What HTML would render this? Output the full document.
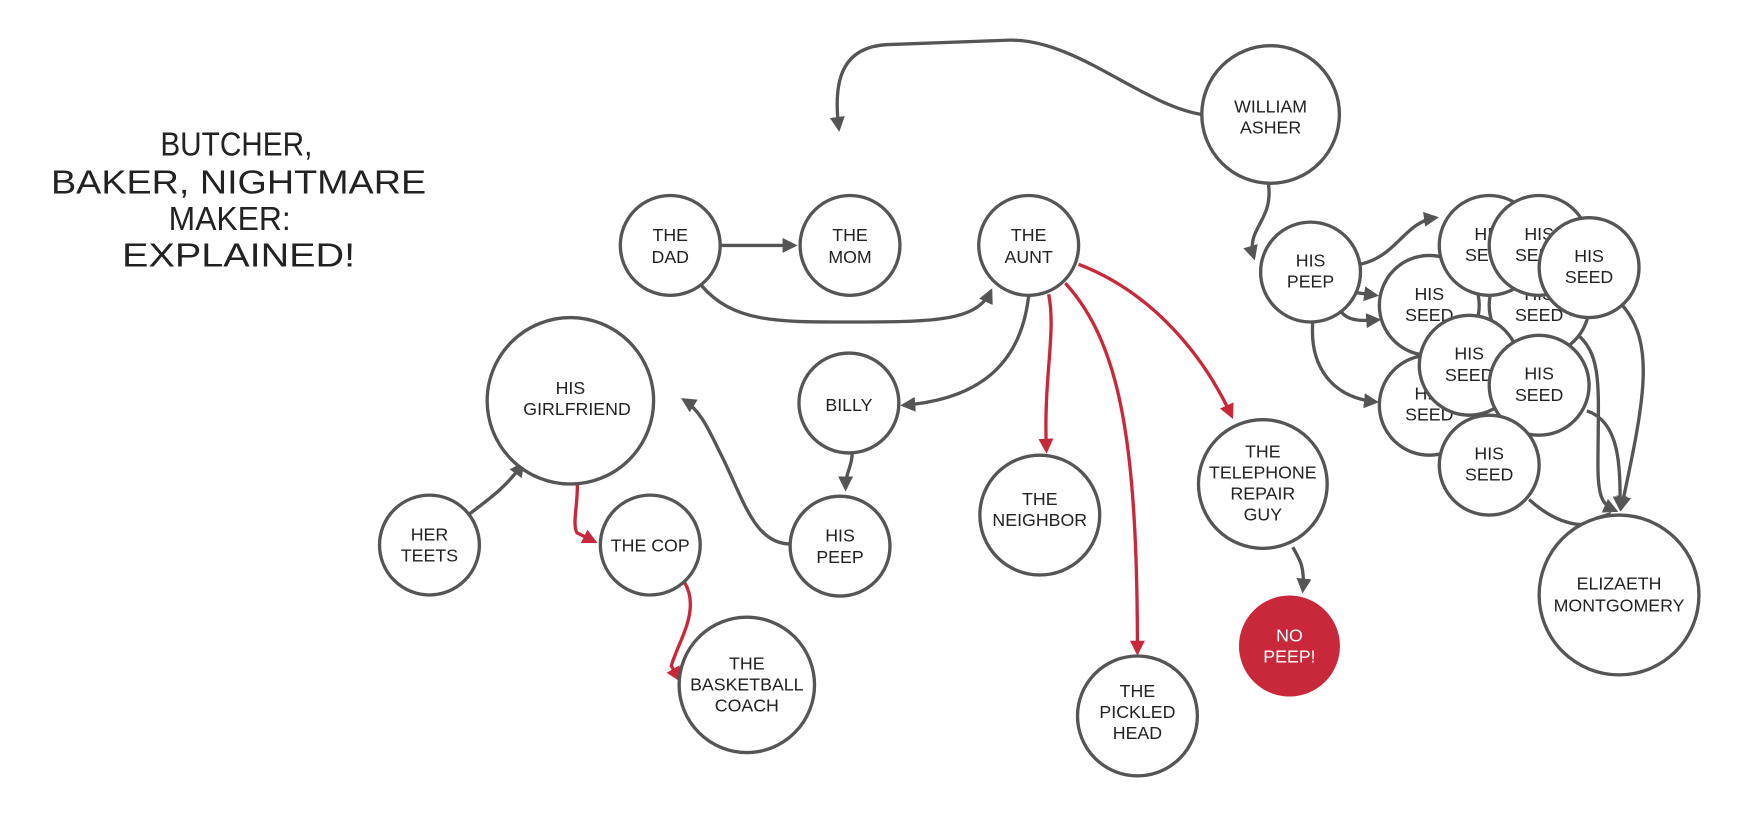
<!DOCTYPE html>
<html><head><meta charset="utf-8"><style>
html,body{margin:0;padding:0;background:#fff;}
svg{display:block}
text{font-family:"Liberation Sans",sans-serif;fill:#222;}
</style></head><body>
<svg width="1740" height="816" viewBox="0 0 1568 735" xmlns="http://www.w3.org/2000/svg">
<defs>
<marker id="ag" viewBox="0 0 10 10" refX="8" refY="5" markerWidth="4.5" markerHeight="4.5" orient="auto"><path d="M0,0 L10,5 L0,10 z" fill="#555"/></marker>
<marker id="ar" viewBox="0 0 10 10" refX="8" refY="5" markerWidth="4.5" markerHeight="4.5" orient="auto"><path d="M0,0 L10,5 L0,10 z" fill="#c8283a"/></marker>
</defs>
<g font-size="30" text-anchor="middle" style="font-family:'Liberation Sans',sans-serif" fill="#111">
<text x="213" y="140" textLength="137" lengthAdjust="spacingAndGlyphs">BUTCHER,</text>
<text x="215" y="174" textLength="338" lengthAdjust="spacingAndGlyphs">BAKER, NIGHTMARE</text>
<text x="207" y="207" textLength="110" lengthAdjust="spacingAndGlyphs">MAKER:</text>
<text x="215" y="240" textLength="210" lengthAdjust="spacingAndGlyphs">EXPLAINED!</text>
</g>
<g fill="none" stroke="#555" stroke-width="3" marker-end="url(#ag)">
<path d="M1083,103 C1030,95 970,35 910,36 L800,40 C760,42 750,70 756,116"/>
<path d="M1143,165 C1148,200 1122,205 1130,232"/>
<path d="M649,221 L716,221"/>
<path d="M632,257 C660,290 700,290 760,290 C840,290 880,290 893,262"/>
<path d="M927,266 C920,330 880,360 814,365"/>
<path d="M768,408 C768,420 762,425 762,440"/>
<path d="M712,490 C680,490 670,450 650,410 C640,390 632,370 616,360"/>
<path d="M423,463 C440,450 455,440 471,418"/>
<path d="M1165,493 C1172,505 1176,512 1174,532"/>
<path d="M1226,238 C1260,230 1265,200 1294,196"/>
<path d="M1218,263 L1240,266"/>
<path d="M1208,280 C1215,290 1228,289 1242,288"/>
<path d="M1183,290 C1180,330 1200,358 1240,362"/>
<path d="M1462,275 C1492,310 1482,360 1461,458"/>
<path d="M1420,300 C1445,320 1440,350 1440,420 C1440,450 1445,455 1456,460"/>
<path d="M1430,370 C1460,380 1460,420 1460,458"/>
<path d="M1378,450 C1400,470 1430,482 1450,463"/>
</g>
<g fill="none" stroke="#c8283a" stroke-width="3" marker-end="url(#ar)">
<path d="M945,265 C952,300 940,340 943,406"/>
<path d="M960,255 C1010,310 1025,400 1025,588"/>
<path d="M972,238 C1030,260 1080,310 1110,375"/>
<path d="M520,430 C522,450 515,472 520,480 L536,488"/>
<path d="M617,525 C632,550 610,580 605,600 L612,612"/>
</g>
<g stroke="#555" stroke-width="3" fill="#fff" font-size="16" text-anchor="middle">
<circle cx="1145" cy="103" r="62"/><text x="1145" y="101" stroke="none">WILLIAM</text><text x="1145" y="120" stroke="none">ASHER</text>
<circle cx="604" cy="221" r="45"/><text x="604" y="217" stroke="none">THE</text><text x="604" y="237" stroke="none">DAD</text>
<circle cx="766" cy="221" r="45"/><text x="766" y="217" stroke="none">THE</text><text x="766" y="237" stroke="none">MOM</text>
<circle cx="927" cy="221" r="45"/><text x="927" y="217" stroke="none">THE</text><text x="927" y="237" stroke="none">AUNT</text>
<circle cx="514" cy="361" r="75"/><text x="514" y="355" stroke="none">HIS</text><text x="520" y="374" stroke="none">GIRLFRIEND</text>
<circle cx="765" cy="363" r="45"/><text x="765" y="370" stroke="none">BILLY</text>
<circle cx="757" cy="492" r="45"/><text x="757" y="488" stroke="none">HIS</text><text x="757" y="507" stroke="none">PEEP</text>
<circle cx="387" cy="491" r="45"/><text x="387" y="487" stroke="none">HER</text><text x="387" y="506" stroke="none">TEETS</text>
<circle cx="586" cy="491" r="45"/><text x="586" y="497" stroke="none">THE COP</text>
<circle cx="673" cy="617" r="61"/><text x="673" y="603" stroke="none">THE</text><text x="673" y="622" stroke="none">BASKETBALL</text><text x="673" y="641" stroke="none">COACH</text>
<circle cx="937" cy="464" r="54"/><text x="937" y="455" stroke="none">THE</text><text x="937" y="474" stroke="none">NEIGHBOR</text>
<circle cx="1025" cy="645" r="54"/><text x="1025" y="628" stroke="none">THE</text><text x="1025" y="647" stroke="none">PICKLED</text><text x="1025" y="666" stroke="none">HEAD</text>
<circle cx="1138" cy="436" r="58"/><text x="1138" y="412" stroke="none">THE</text><text x="1138" y="431" stroke="none">TELEPHONE</text><text x="1138" y="450" stroke="none">REPAIR</text><text x="1138" y="469" stroke="none">GUY</text>
<circle cx="1162" cy="582" r="44" fill="#c8283a" stroke="#c8283a"/><text x="1162" y="578" stroke="none" style="fill:#fff">NO</text><text x="1162" y="597" stroke="none" style="fill:#fff">PEEP!</text>
<circle cx="1181" cy="245" r="45"/><text x="1181" y="240" stroke="none">HIS</text><text x="1181" y="259" stroke="none">PEEP</text>
<circle cx="1459" cy="536" r="72"/><text x="1459" y="531" stroke="none">ELIZAETH</text><text x="1459" y="551" stroke="none">MONTGOMERY</text>
<circle cx="1288" cy="275" r="45"/><text x="1288" y="270" stroke="none">HIS</text><text x="1288" y="289" stroke="none">SEED</text>
<circle cx="1288" cy="365" r="45"/><text x="1288" y="360" stroke="none">HIS</text><text x="1288" y="379" stroke="none">SEED</text>
<circle cx="1387" cy="275" r="45"/><text x="1387" y="270" stroke="none">HIS</text><text x="1387" y="289" stroke="none">SEED</text>
<circle cx="1342" cy="221" r="45"/><text x="1342" y="216" stroke="none">HIS</text><text x="1342" y="235" stroke="none">SEED</text>
<circle cx="1387" cy="221" r="45"/><text x="1387" y="216" stroke="none">HIS</text><text x="1387" y="235" stroke="none">SEED</text>
<circle cx="1432" cy="241" r="45"/><text x="1432" y="236" stroke="none">HIS</text><text x="1432" y="255" stroke="none">SEED</text>
<circle cx="1324" cy="329" r="45"/><text x="1324" y="324" stroke="none">HIS</text><text x="1324" y="343" stroke="none">SEED</text>
<circle cx="1387" cy="347" r="45"/><text x="1387" y="342" stroke="none">HIS</text><text x="1387" y="361" stroke="none">SEED</text>
<circle cx="1342" cy="419" r="45"/><text x="1342" y="414" stroke="none">HIS</text><text x="1342" y="433" stroke="none">SEED</text>
</g>
</svg>
</body></html>
